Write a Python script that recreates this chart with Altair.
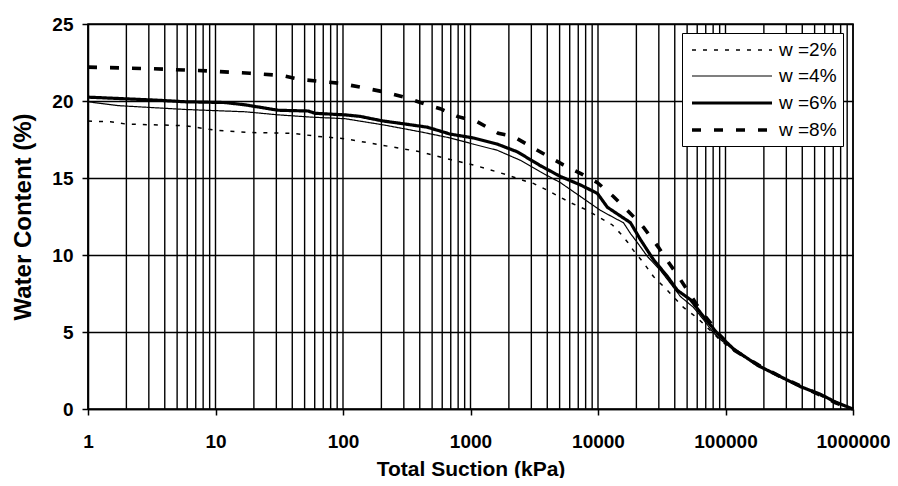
import altair as alt
import pandas as pd

series = ["w =2%", "w =4%", "w =6%", "w =8%"]

# w = 2 %
s_w2 = [1, 1.5, 2, 5.77, 9.93, 19.4, 39.9, 63.9, 104, 196, 404, 694, 1052, 1945, 2460,
        3112, 4007, 6073, 8258, 10440, 12970, 14990, 17010, 18960, 22720, 27220, 35050,
        46810, 60300, 80500, 91380, 115600, 181600, 270200, 387900, 556800, 730200, 1000000]
wc_w2 = [18.7, 18.65, 18.5, 18.4, 18.1, 17.95, 17.9, 17.7, 17.55, 17.15, 16.7, 16.2, 15.85,
         15.2, 14.9, 14.65, 14.2, 13.4, 12.9, 12.4, 11.95, 11.4, 10.85, 10.3, 9.5, 8.6, 7.7,
         6.6, 5.9, 4.9, 4.45, 3.8, 2.8, 2.05, 1.45, 0.85, 0.4, 0]

# w = 4 %
s_w4 = [1, 1.72, 5.77, 17.1, 31, 57.3, 104, 207, 404, 694, 1052, 1623, 2460, 3530, 5070,
        7278, 10440, 14200, 15830, 17960, 20390, 24430, 30890, 39070, 44360, 56100, 67200,
        80500, 91380, 115600, 181600, 270200, 387900, 556800, 730200, 1000000]
wc_w4 = [19.95, 19.7, 19.45, 19.3, 19.1, 18.95, 18.85, 18.45, 18.0, 17.6, 17.2, 16.8, 16.15,
         15.4, 14.7, 13.8, 12.9, 12.3, 12.1, 11.4, 10.8, 9.9, 9.0, 7.9, 7.3, 6.6, 5.8, 4.95,
         4.5, 3.85, 2.85, 2.1, 1.5, 0.9, 0.45, 0]

# w = 6 %
s_w6 = [1, 3.54, 5.77, 11.9, 17.1, 31, 53.3, 60.5, 104, 136, 207, 281, 458, 694, 1052, 1623,
        2330, 3530, 5070, 7278, 9892, 11850, 17960, 21520, 27220, 35050, 42010, 53140, 67200,
        86550, 115600, 181600, 270200, 387900, 556800, 730200, 1000000]
wc_w6 = [20.25, 20.05, 19.95, 19.9, 19.75, 19.4, 19.35, 19.2, 19.1, 19.0, 18.7, 18.55, 18.3,
         17.85, 17.6, 17.2, 16.7, 15.8, 15.1, 14.55, 14.0, 13.1, 12.1, 11.0, 9.7, 8.6, 7.7,
         7.1, 6.0, 4.9, 3.9, 2.8, 2.1, 1.45, 0.95, 0.45, 0]

# w = 8 %
s_w8 = [1, 3.07, 8.75, 18.7, 33.3, 46.1, 95.1, 136, 207, 319, 404, 579, 788, 1131, 1653, 2168,
        3344, 5351, 7278, 9892, 13210, 17960, 22720, 29800, 33810, 42010, 48530, 63660, 76240,
        86550, 115600, 181600, 270200, 387900, 556800, 730200, 1000000]
wc_w8 = [22.2, 22.1, 21.95, 21.8, 21.65, 21.4, 21.15, 20.9, 20.6, 20.2, 19.9, 19.5, 19.0,
         18.65, 17.9, 17.7, 16.8, 15.85, 15.3, 14.7, 13.8, 12.7, 11.8, 10.5, 9.8, 8.7, 7.9,
         6.4, 5.6, 4.95, 3.85, 2.85, 2.1, 1.5, 0.9, 0.4, 0]

decades = [1, 10, 100, 1000, 10000, 100000, 1000000]
minor = [m * d for d in decades[:-1] for m in range(1, 10)] + [1000000]
y_ticks = [0, 5, 10, 15, 20, 25]

dashes = [[4, 7], [1, 0], [1, 0], [9, 13]]
widths = [1.5, 1.2, 3.2, 3.6]

rows = []
for name, ss, ww in zip(series, [s_w2, s_w4, s_w6, s_w8], [wc_w2, wc_w4, wc_w6, wc_w8]):
    for i, (s, w) in enumerate(zip(ss, ww)):
        rows.append({"series": name, "s": s, "wc": w, "i": i})
df = pd.DataFrame(rows)
grid_df = pd.DataFrame({"s": minor})

xscale = alt.Scale(type="log", domain=[1, 1000000], nice=False)
xaxis = alt.Axis(values=decades, format="d", title="Total Suction (kPa)", grid=False,
                 labelFlush=False, labelPadding=17, titlePadding=7, tickSize=6,
                 titleFontSize=21)
yaxis = alt.Axis(values=y_ticks, title="Water Content (%)", grid=True, tickSize=6,
                 labelPadding=9, titlePadding=16, titleFontSize=24)

grid = alt.Chart(grid_df).mark_rule(color="#000", strokeWidth=1.4).encode(
    x=alt.X("s:Q", scale=xscale, axis=xaxis)
)

lines = alt.Chart(df).mark_line(color="black", strokeCap="butt").encode(
    x=alt.X("s:Q", scale=xscale, axis=xaxis),
    y=alt.Y("wc:Q", scale=alt.Scale(domain=[0, 25], nice=False), axis=yaxis),
    order="i:Q",
    strokeDash=alt.StrokeDash("series:N", scale=alt.Scale(domain=series, range=dashes),
                              legend=alt.Legend(title=None)),
    strokeWidth=alt.StrokeWidth("series:N",
                                scale=alt.Scale(type="ordinal", domain=series, range=widths),
                                legend=alt.Legend(title=None)),
)

chart = (
    alt.layer(grid, lines)
    .properties(width=765, height=385,
                autosize=alt.AutoSizeParams(type="none"),
                padding={"left": 80, "top": 16, "right": 37, "bottom": 69})
    .configure_view(stroke="black", strokeWidth=1.5)
    .configure_axis(labelFont="Liberation Sans", labelFontWeight="bold", labelFontSize=19,
                    labelColor="black", titleFont="Liberation Sans", titleFontWeight="bold",
                    titleColor="black", domainColor="black", domainWidth=1.5,
                    tickColor="black", tickWidth=1.5, gridColor="black", gridWidth=1.4,
                    gridOpacity=1)
    .configure_legend(orient="none", legendX=594, legendY=9, strokeColor="black",
                      fillColor="white", padding=6, symbolType="M-0.8,0H7.2", symbolSize=400,
                      symbolStrokeColor="black", labelFont="Liberation Sans",
                      labelFontSize=19, labelColor="black", labelOffset=67, rowPadding=5,
                      cornerRadius=0)
)

chart.save("out.html", embed_options={"renderer": "svg", "actions": False})
